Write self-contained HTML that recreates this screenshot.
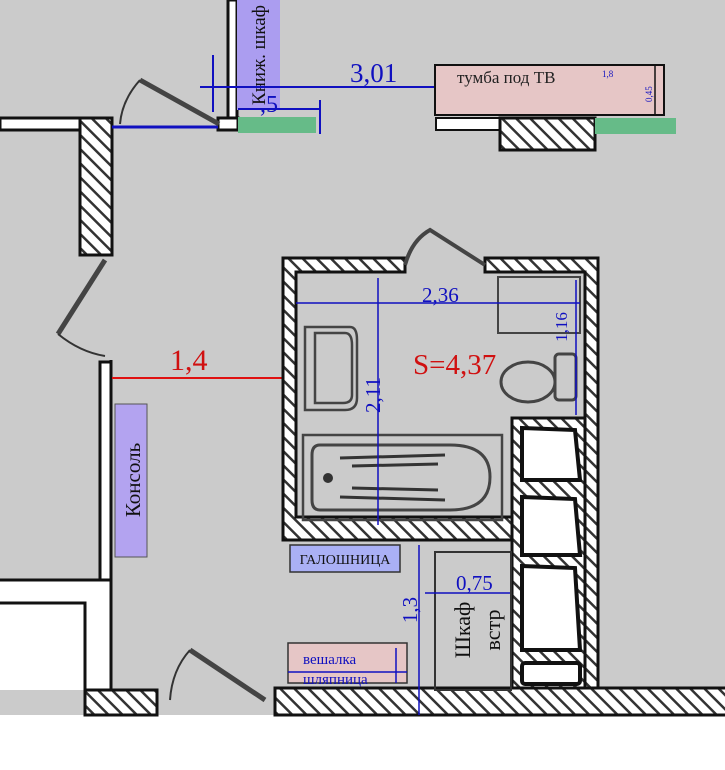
<!DOCTYPE html>
<html><head><meta charset="utf-8"><style>
html,body{margin:0;padding:0;background:#fff}
svg{display:block}
text{font-family:"Liberation Serif",serif}
</style></head><body>
<svg width="725" height="770" viewBox="0 0 725 770" xmlns="http://www.w3.org/2000/svg">
<defs>
<pattern id="h" width="10" height="10" patternUnits="userSpaceOnUse" patternTransform="rotate(-45)">
<rect width="10" height="10" fill="#fff"/><rect width="2.5" height="10" fill="#333"/>
</pattern>
</defs>
<rect x="0" y="0" width="725" height="715" fill="#cbcbcb"/>
<rect x="0" y="715" width="725" height="55" fill="#fff"/>
<rect x="0" y="580" width="111" height="110" fill="#fff"/>
<path d="M0 580H111M0 603H85V690M111 360V690" stroke="#111" stroke-width="3" fill="none"/>
<rect x="85" y="690" width="72" height="25" fill="url(#h)" stroke="#111" stroke-width="3"/>
<rect x="228" y="0" width="9" height="130" fill="#fff" stroke="#111" stroke-width="3"/>
<rect x="0" y="118" width="80" height="12" fill="#fff" stroke="#111" stroke-width="3"/>
<rect x="218" y="118" width="20" height="12" fill="#fff" stroke="#111" stroke-width="3"/>
<rect x="80" y="118" width="32" height="137" fill="url(#h)" stroke="#111" stroke-width="3"/>
<line x1="112" y1="127" x2="218" y2="127" stroke="#1010c0" stroke-width="3"/>
<path d="M219 124 L140 80" stroke="#444" stroke-width="5"/>
<path d="M140 80 Q122 100 120 124" stroke="#333" stroke-width="2" fill="none"/>
<rect x="237" y="0" width="43" height="110" fill="#ab9df0"/>
<text transform="translate(265,55) rotate(-90)" text-anchor="middle" font-size="19" fill="#111">Книж. шкаф</text>
<rect x="238" y="117" width="78" height="16" fill="#66bb88"/>
<path d="M213 55V112M238 109H320M320 100V134M200 87H435" stroke="#1010c0" stroke-width="2" fill="none"/>
<text x="350" y="82" font-size="27" fill="#1010c0">3,01</text>
<text x="260" y="112" font-size="24" fill="#1010c0">,5</text>
<rect x="435" y="65" width="229" height="50" fill="#e6c6c6" stroke="#111" stroke-width="2"/>
<line x1="655" y1="65" x2="655" y2="115" stroke="#111" stroke-width="1.5"/>
<text x="457" y="83" font-size="17" fill="#222">тумба под ТВ</text>
<text x="602" y="77" font-size="9" fill="#1010c0">1,8</text>
<text transform="translate(652,102) rotate(-90)" font-size="9" fill="#1010c0">0,45</text>
<rect x="436" y="118" width="64" height="12" fill="#fff" stroke="#111" stroke-width="2"/>
<rect x="500" y="118" width="95" height="32" fill="url(#h)" stroke="#111" stroke-width="3"/>
<rect x="595" y="118" width="81" height="16" fill="#66bb88"/>
<path d="M105 260 L58 334" stroke="#444" stroke-width="5"/>
<path d="M58 334 Q80 352 105 356" stroke="#333" stroke-width="2" fill="none"/>
<rect x="100" y="362" width="11" height="218" fill="#fff" stroke="#111" stroke-width="3"/>
<line x1="112" y1="378" x2="283" y2="378" stroke="#e01010" stroke-width="2"/>
<text x="170" y="370" font-size="30" fill="#d01010">1,4</text>
<rect x="115" y="404" width="32" height="153" fill="#b3a3f0" stroke="#555" stroke-width="1"/>
<text transform="translate(140,480) rotate(-90)" text-anchor="middle" font-size="21" fill="#111">Консоль</text>
<path d="M190 650 L265 700" stroke="#444" stroke-width="5"/>
<path d="M190 650 Q172 670 170 700" stroke="#333" stroke-width="2" fill="none"/>
<rect x="275" y="688" width="455" height="27" fill="url(#h)" stroke="#111" stroke-width="3"/>
<path d="M283 258H405V272H296V517H512V540H283Z" fill="url(#h)" stroke="#111" stroke-width="3"/>
<path d="M485 258H598V688H585V272H485Z" fill="url(#h)" stroke="#111" stroke-width="3"/>
<rect x="512" y="418" width="73" height="270" fill="url(#h)" stroke="#111" stroke-width="3"/>
<g fill="#fff" stroke="#111" stroke-width="4">
<path d="M522 428L575 430L580 480H522Z"/>
<path d="M522 497L575 499L580 555H522Z"/>
<path d="M522 566L575 568L580 650H522Z"/>
<rect x="522" y="663" width="58" height="21" rx="3"/>
</g>
<path d="M405 265 Q412 240 430 230 L485 265" stroke="#444" stroke-width="4" fill="none"/>
<rect x="498" y="277" width="82" height="56" fill="none" stroke="#444" stroke-width="2"/>
<rect x="555" y="354" width="21" height="46" rx="4" fill="none" stroke="#444" stroke-width="3"/>
<ellipse cx="528" cy="382" rx="27" ry="20" fill="none" stroke="#444" stroke-width="3"/>
<path d="M305 327H350Q357 327 357 340V398Q357 410 345 410H305Z" fill="none" stroke="#444" stroke-width="2.5"/>
<path d="M315 333H345Q352 333 352 345V395Q352 403 343 403H315Z" fill="none" stroke="#444" stroke-width="2.5"/>
<rect x="303" y="435" width="199" height="85" fill="none" stroke="#444" stroke-width="2.5"/>
<path d="M320 445H450Q490 445 490 477Q490 510 450 510H320Q312 510 312 500V455Q312 445 320 445Z" fill="none" stroke="#444" stroke-width="3"/>
<path d="M340 458L445 455M352 466L438 464M352 488L438 490M340 497L445 500" stroke="#333" stroke-width="3"/>
<circle cx="328" cy="478" r="5" fill="#333"/>
<path d="M378 278V525M296 303H580M576 280V415" stroke="#1010c0" stroke-width="1.5" fill="none"/>
<text x="422" y="302" font-size="21" fill="#1010c0">2,36</text>
<text transform="translate(380,395) rotate(-90)" text-anchor="middle" font-size="21" fill="#1010c0">2,11</text>
<text transform="translate(567,327) rotate(-90)" text-anchor="middle" font-size="17" fill="#1010c0">1,16</text>
<text x="413" y="374" font-size="29" fill="#d01010">S=4,37</text>
<rect x="290" y="545" width="110" height="27" fill="#aab0f5" stroke="#333" stroke-width="1.5"/>
<text x="345" y="564" text-anchor="middle" font-size="14" fill="#111">ГАЛОШНИЦА</text>
<line x1="419" y1="545" x2="419" y2="715" stroke="#1010c0" stroke-width="1.5"/>
<text transform="translate(417,610) rotate(-90)" text-anchor="middle" font-size="21" fill="#1010c0">1,3</text>
<rect x="435" y="552" width="76" height="138" fill="none" stroke="#333" stroke-width="2"/>
<line x1="425" y1="593" x2="510" y2="593" stroke="#1010c0" stroke-width="1.5"/>
<text x="456" y="590" font-size="21" fill="#1010c0">0,75</text>
<text transform="translate(470,630) rotate(-90)" text-anchor="middle" font-size="22" fill="#111">Шкаф</text>
<text transform="translate(500,630) rotate(-90)" text-anchor="middle" font-size="22" fill="#111">встр</text>
<rect x="288" y="643" width="119" height="40" fill="#e6c6c6" stroke="#333" stroke-width="1.5"/>
<path d="M288 672H407M396 648V683" stroke="#1010c0" stroke-width="1.5"/>
<text x="303" y="664" font-size="15" fill="#1010c0">вешалка</text>
<text x="303" y="684" font-size="15" fill="#1010c0">шляпница</text>
</svg>
</body></html>
